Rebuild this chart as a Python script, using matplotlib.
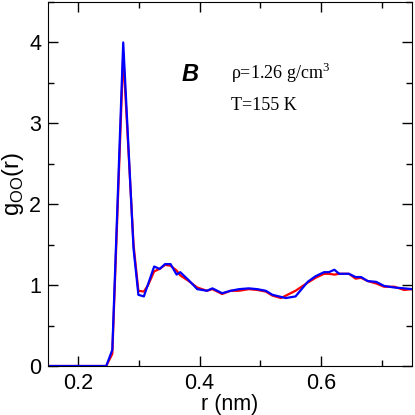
import matplotlib
matplotlib.use("Agg")
import matplotlib.pyplot as plt
from matplotlib.ticker import MultipleLocator

r_blue = [0.150, 0.246, 0.256, 0.274, 0.291, 0.299, 0.308, 0.325, 0.334, 0.343, 0.352,
          0.362, 0.368, 0.382, 0.396, 0.412, 0.421, 0.437, 0.451, 0.465, 0.481, 0.495,
          0.509, 0.520, 0.542, 0.558, 0.578, 0.591, 0.605, 0.613, 0.622, 0.630, 0.646,
          0.657, 0.666, 0.677, 0.691, 0.704, 0.721, 0.737, 0.751]
g_blue = [0.0, 0.0, 0.2, 4.0, 1.45, 0.88, 0.86, 1.23, 1.20, 1.26, 1.26,
          1.13, 1.16, 1.06, 0.95, 0.93, 0.96, 0.90, 0.93, 0.95, 0.96, 0.95,
          0.93, 0.88, 0.84, 0.86, 1.04, 1.11, 1.16, 1.16, 1.19, 1.14, 1.14,
          1.10, 1.10, 1.05, 1.04, 0.99, 0.97, 0.96, 0.95]

r_red = [0.150, 0.246, 0.256, 0.274, 0.291, 0.299, 0.308, 0.315, 0.325, 0.334, 0.343,
         0.352, 0.362, 0.368, 0.382, 0.396, 0.412, 0.421, 0.437, 0.451, 0.465, 0.481,
         0.495, 0.509, 0.520, 0.534, 0.542, 0.558, 0.578, 0.591, 0.605, 0.613, 0.622,
         0.630, 0.646, 0.657, 0.666, 0.677, 0.691, 0.704, 0.721, 0.737, 0.751]
g_red = [0.0, 0.0, 0.15, 3.85, 1.50, 0.93, 0.92, 1.00, 1.17, 1.20, 1.25,
         1.24, 1.18, 1.12, 1.05, 0.97, 0.93, 0.95, 0.89, 0.93, 0.93, 0.95,
         0.94, 0.92, 0.87, 0.84, 0.87, 0.93, 1.03, 1.09, 1.14, 1.14, 1.13,
         1.14, 1.14, 1.08, 1.09, 1.05, 1.02, 0.98, 0.98, 0.94, 0.95]

plt.rcParams['font.family'] = ['Liberation Sans', 'DejaVu Sans']

fig = plt.figure(figsize=(4.15, 4.15), dpi=100)
ax = fig.add_axes([48/415, 1 - 366/415, 364/415, 364/415])

ax.plot(r_red, g_red, color='#ff0000', lw=1.6)
ax.plot(r_blue, g_blue, color='#0000ff', lw=1.6)

ax.set_xlim(0.15, 0.75)
ax.set_ylim(0, 4.5)
ax.xaxis.set_major_locator(MultipleLocator(0.2))
ax.xaxis.set_minor_locator(MultipleLocator(0.1))
ax.yaxis.set_major_locator(MultipleLocator(1))
ax.yaxis.set_minor_locator(MultipleLocator(0.5))
ax.tick_params(which='both', direction='in', top=True, right=True, labelsize=15.5)
ax.tick_params(axis='y', pad=5)
ax.tick_params(axis='x', pad=5)
ax.tick_params(which='major', length=7, width=1)
ax.tick_params(which='minor', length=4, width=1)

ax.set_xlabel('r (nm)', fontsize=15.5, labelpad=0)
ax.set_ylabel(r'g$_{\mathregular{OO}}$(r)', fontsize=17, labelpad=2)

ax.text(0.385, 3.6, 'B', fontsize=17, fontweight='bold', fontstyle='italic',
        ha='center', va='center')
ax.text(0.452, 3.55, r'ρ=1.26 g/cm$^{\mathregular{3}}$', fontsize=13,
        family=['Liberation Serif', 'DejaVu Serif'], ha='left', va='baseline')
ax.text(0.452, 3.17, 'T=155 K', fontsize=13,
        family=['Liberation Serif', 'DejaVu Serif'], ha='left', va='baseline')

fig.savefig('out.png', dpi=100)
